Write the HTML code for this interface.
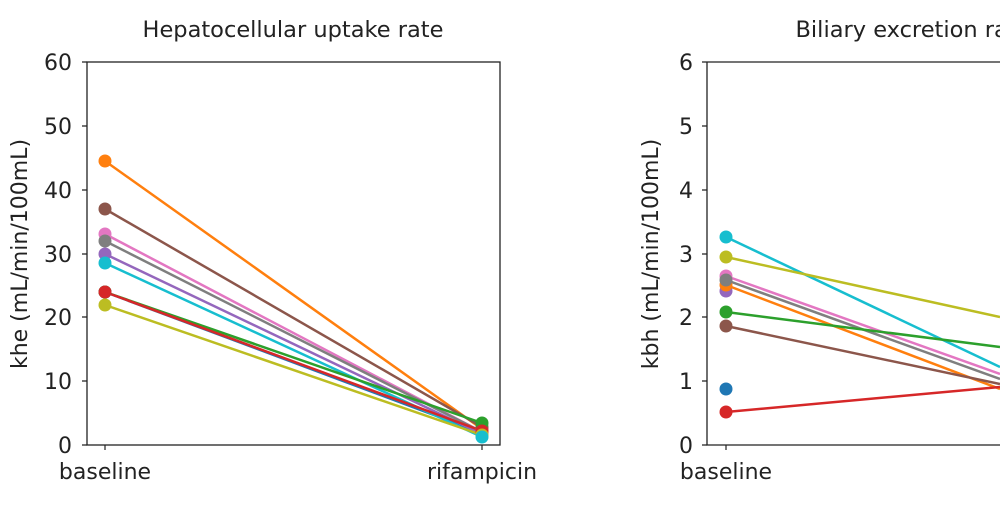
<!DOCTYPE html><html><head><style>body{margin:0;background:#fff}</style></head><body>
<svg width="1000" height="500" xmlns="http://www.w3.org/2000/svg" font-family="DejaVu Sans, Liberation Sans, sans-serif">
<rect width="1000" height="500" fill="#fff"/>
<text x="293" y="37" font-size="22.5" text-anchor="middle" fill="#222">Hepatocellular uptake rate</text>
<text x="913" y="37" font-size="22.5" text-anchor="middle" fill="#222">Biliary excretion rate</text>
<g stroke="#222" stroke-width="1.3" fill="none">
<rect x="87" y="62" width="413" height="383"/>
<path d="M707 62V445H1001M707 62H1001"/>
</g>
<g stroke="#222" stroke-width="1.2">
<path d="M82 445h5M82 381h5M82 317h5M82 254h5M82 190h5M82 126h5M82 62h5M105 445v5M482 445v5"/>
<path d="M702 445h5M702 381h5M702 317h5M702 254h5M702 190h5M702 126h5M702 62h5M726 445v5"/>
</g>
<g font-size="22" fill="#222" text-anchor="end">
<text x="72" y="453">0</text><text x="72" y="389">10</text><text x="72" y="325">20</text><text x="72" y="262">30</text><text x="72" y="198">40</text><text x="72" y="134">50</text><text x="72" y="70">60</text>
<text x="693" y="453">0</text><text x="693" y="389">1</text><text x="693" y="325">2</text><text x="693" y="262">3</text><text x="693" y="198">4</text><text x="693" y="134">5</text><text x="693" y="70">6</text>
</g>
<g font-size="22" fill="#222" text-anchor="middle">
<text x="105" y="479">baseline</text><text x="482" y="479">rifampicin</text><text x="726" y="479">baseline</text>
</g>
<text transform="translate(27,254) rotate(-90)" font-size="22" text-anchor="middle" fill="#222">khe (mL/min/100mL)</text>
<text transform="translate(658,254) rotate(-90)" font-size="22" text-anchor="middle" fill="#222">kbh (mL/min/100mL)</text>
<g stroke-width="2.5">
<line x1="105" y1="292" x2="482" y2="433" stroke="#1f77b4"/>
<line x1="105" y1="161" x2="482" y2="429" stroke="#ff7f0e"/>
<line x1="105" y1="209" x2="482" y2="427" stroke="#8c564b"/>
<line x1="105" y1="234" x2="482" y2="432" stroke="#e377c2"/>
<line x1="105" y1="241" x2="482" y2="432" stroke="#7f7f7f"/>
<line x1="105" y1="254" x2="482" y2="434" stroke="#9467bd"/>
<line x1="105" y1="263" x2="482" y2="437" stroke="#17becf"/>
<line x1="105" y1="292" x2="482" y2="423" stroke="#2ca02c"/>
<line x1="105" y1="292" x2="482" y2="431" stroke="#d62728"/>
<line x1="105" y1="305" x2="482" y2="435" stroke="#bcbd22"/>
</g>
<g>
<circle cx="105" cy="292" r="6.5" fill="#1f77b4"/><circle cx="482" cy="433" r="6.5" fill="#1f77b4"/>
<circle cx="105" cy="161" r="6.5" fill="#ff7f0e"/><circle cx="482" cy="429" r="6.5" fill="#ff7f0e"/>
<circle cx="105" cy="209" r="6.5" fill="#8c564b"/><circle cx="482" cy="427" r="6.5" fill="#8c564b"/>
<circle cx="105" cy="254" r="6.5" fill="#9467bd"/><circle cx="482" cy="434" r="6.5" fill="#9467bd"/>
<circle cx="105" cy="234" r="6.5" fill="#e377c2"/><circle cx="482" cy="432" r="6.5" fill="#e377c2"/>
<circle cx="105" cy="241" r="6.5" fill="#7f7f7f"/><circle cx="482" cy="432" r="6.5" fill="#7f7f7f"/>
<circle cx="105" cy="263" r="6.5" fill="#17becf"/>
<circle cx="105" cy="292" r="6.5" fill="#2ca02c"/><circle cx="482" cy="423" r="6.5" fill="#2ca02c"/>
<circle cx="105" cy="292" r="6.5" fill="#d62728"/><circle cx="482" cy="431" r="6.5" fill="#d62728"/>
<circle cx="105" cy="305" r="6.5" fill="#bcbd22"/><circle cx="482" cy="435" r="6.5" fill="#bcbd22"/>
<circle cx="482" cy="437" r="6.5" fill="#17becf"/>
</g>
<g stroke-width="2.5">
<line x1="726" y1="237" x2="1000" y2="367" stroke="#17becf"/>
<line x1="726" y1="257" x2="1000" y2="317" stroke="#bcbd22"/>
<line x1="726" y1="285" x2="1000" y2="389" stroke="#ff7f0e"/>
<line x1="726" y1="276" x2="1000" y2="374" stroke="#e377c2"/>
<line x1="726" y1="280" x2="1000" y2="379" stroke="#7f7f7f"/>
<line x1="726" y1="312" x2="1000" y2="347" stroke="#2ca02c"/>
<line x1="726" y1="326" x2="1000" y2="384" stroke="#8c564b"/>
<line x1="726" y1="412" x2="1000" y2="387" stroke="#d62728"/>
</g>
<g>
<circle cx="726" cy="237" r="6.5" fill="#17becf"/>
<circle cx="726" cy="257" r="6.5" fill="#bcbd22"/>
<circle cx="726" cy="291" r="6.5" fill="#9467bd"/>
<circle cx="726" cy="285" r="6.5" fill="#ff7f0e"/>
<circle cx="726" cy="276" r="6.5" fill="#e377c2"/>
<circle cx="726" cy="280" r="6.5" fill="#7f7f7f"/>
<circle cx="726" cy="312" r="6.5" fill="#2ca02c"/>
<circle cx="726" cy="326" r="6.5" fill="#8c564b"/>
<circle cx="726" cy="389" r="6.5" fill="#1f77b4"/>
<circle cx="726" cy="412" r="6.5" fill="#d62728"/>
</g>
</svg>
</body></html>
